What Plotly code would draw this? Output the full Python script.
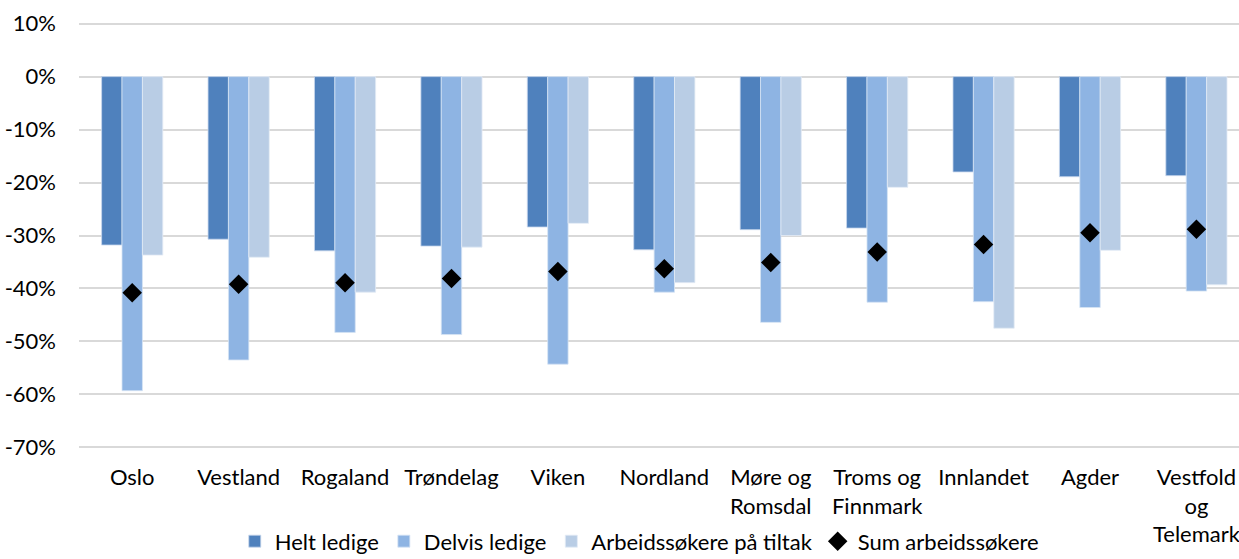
import plotly.graph_objects as go

categories = ["Oslo", "Vestland", "Rogaland", "Trøndelag", "Viken", "Nordland",
              "Møre og<br>Romsdal", "Troms og<br>Finnmark", "Innlandet", "Agder",
              "Vestfold<br>og<br>Telemark"]
helt_ledige = [-31.8, -30.7, -32.9, -32.0, -28.4, -32.7, -28.9, -28.6, -18.0, -18.9, -18.7]
delvis_ledige = [-59.3, -53.5, -48.3, -48.7, -54.3, -40.7, -46.4, -42.6, -42.5, -43.6, -40.5]
arbeid_tiltak = [-33.7, -34.1, -40.7, -32.2, -27.7, -38.9, -30.0, -20.9, -47.5, -32.8, -39.3]
sum_arbeid = [-40.8, -39.2, -38.9, -38.1, -36.8, -36.3, -35.1, -33.1, -31.7, -29.5, -28.8]
y_ticks = [10, 0, -10, -20, -30, -40, -50, -60, -70]
y_tick_labels = ["10%", "0%", "-10%", "-20%", "-30%", "-40%", "-50%", "-60%", "-70%"]

font_family = "Lato, 'Open Sans', sans-serif"

fig = go.Figure()
fig.add_trace(go.Bar(x=categories, y=helt_ledige, name="Helt ledige",
                     marker=dict(color="#4F81BD", line=dict(color="#C9D8EE", width=0.8))))
fig.add_trace(go.Bar(x=categories, y=delvis_ledige, name="Delvis ledige",
                     marker=dict(color="#8EB4E3", line=dict(color="#D6E3F4", width=0.8))))
fig.add_trace(go.Bar(x=categories, y=arbeid_tiltak, name="Arbeidssøkere på tiltak",
                     marker=dict(color="#B9CDE5", line=dict(color="#E3EBF5", width=0.8))))
fig.add_trace(go.Scatter(x=categories, y=sum_arbeid, name="Sum arbeidssøkere", mode="markers",
                         marker=dict(symbol="diamond", color="black", size=15)))

fig.update_layout(
    width=1239, height=559,
    margin=dict(l=79, r=0, t=21, b=109, autoexpand=False),
    paper_bgcolor="white", plot_bgcolor="white",
    barmode="group", bargap=0.425, bargroupgap=0,
    font=dict(family=font_family, size=22, color="#000000"),
    showlegend=True,
    legend=dict(orientation="h", x=0.483, xanchor="center", y=-0.164, yanchor="top",
                font=dict(size=22), itemwidth=30, tracegroupgap=0,
                traceorder="normal"),
    xaxis=dict(range=[-0.5, 10.4], showgrid=False, zeroline=False, showline=False,
               automargin=False, ticks="", ticklabelstandoff=12, tickfont=dict(size=22)),
    yaxis=dict(range=[-70.5, 10.5], tickvals=y_ticks, ticktext=y_tick_labels,
               showgrid=True, gridcolor="#D9D9D9", gridwidth=2, zeroline=False,
               automargin=False, showline=False, ticks="", ticklabelstandoff=22,
               tickfont=dict(size=22)),
)

fig.write_html("out.html", config={"displayModeBar": False},
               post_script="document.body.style.margin='0';document.body.style.overflow='hidden';")
